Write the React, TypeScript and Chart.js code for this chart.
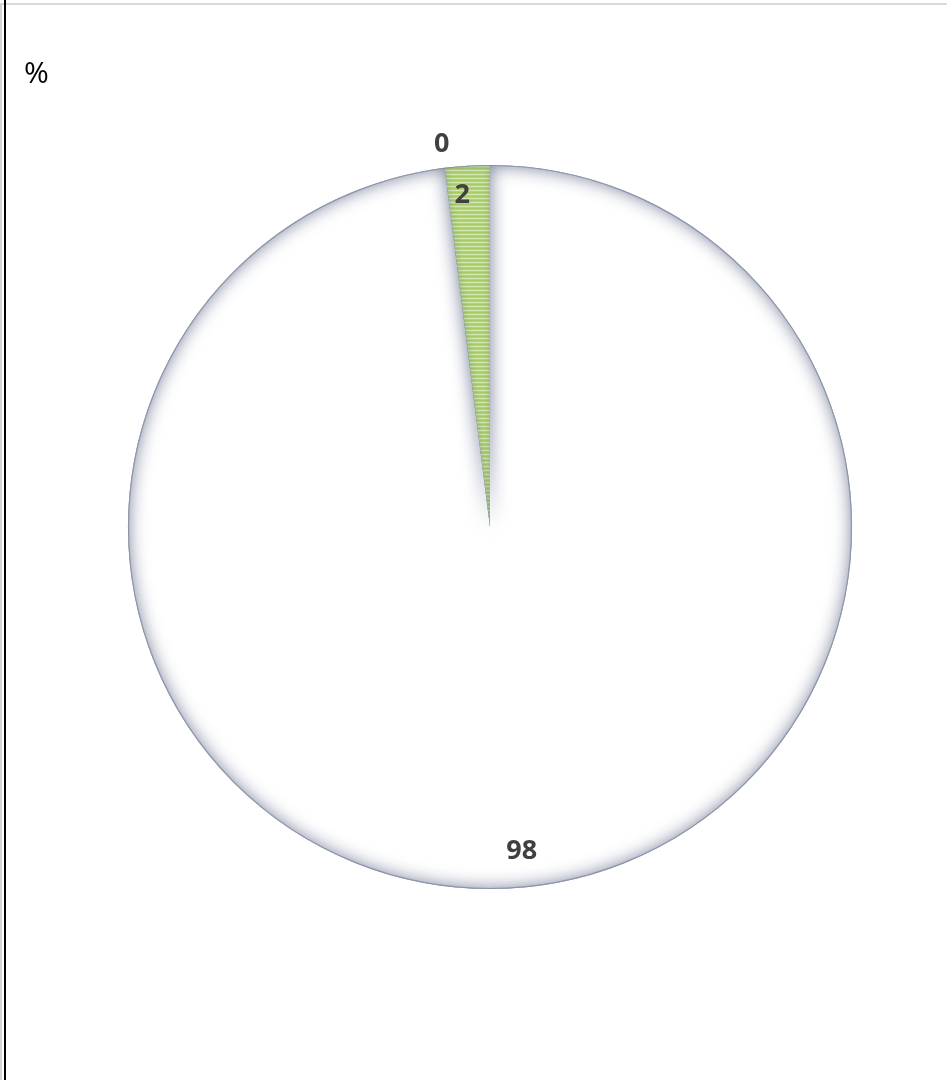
import React, { useEffect, useRef } from "react";
import { Chart, registerables } from "chart.js";

Chart.register(...registerables);

// Slice data (clockwise from 12 o'clock)
const categories = ["Rest", "Empty", "Share"];
const values = [98, 0, 2];
const valueLabels = ["98", "0", "2"];
const unitLabel = "%";

// Label distance from centre (fraction of radius) and angular nudge in degrees
const labelRadius = [0.9, 1.065, 0.92];
const labelShiftDeg = [-2, 0, -1.2];

// Edge shading strength per slice
const shadeBlur = [18, 0, 7];
const shadeAlpha = [0.95, 0, 0.45];

const WIDTH = 947;
const HEIGHT = 1080;

function makeStripes(): CanvasPattern | string {
  const c = document.createElement("canvas");
  c.width = 4;
  c.height = 4;
  const g = c.getContext("2d");
  if (!g) return "#a9cd6c";
  const rows = ["#a6cb66", "#b3d47a", "#d3e8ae", "#b3d47a"];
  rows.forEach((col, i) => {
    g.fillStyle = col;
    g.fillRect(0, i, 4, 1);
  });
  return g.createPattern(c, "repeat") || "#a9cd6c";
}

// Soft inner shading along every slice edge
const edgeShade = {
  id: "edgeShade",
  afterDatasetsDraw(chart: any) {
    const ctx: CanvasRenderingContext2D = chart.ctx;
    const meta = chart.getDatasetMeta(0);
    meta.data.forEach((arc: any, i: number) => {
      const p = arc.getProps(["x", "y", "startAngle", "endAngle", "outerRadius"], true);
      if (p.endAngle - p.startAngle < 1e-4 || shadeAlpha[i] <= 0) return;
      ctx.save();
      ctx.beginPath();
      ctx.moveTo(p.x, p.y);
      ctx.arc(p.x, p.y, p.outerRadius, p.startAngle, p.endAngle);
      ctx.closePath();
      ctx.clip();
      ctx.beginPath();
      ctx.rect(-2000, -2000, WIDTH + 4000, HEIGHT + 4000);
      ctx.moveTo(p.x, p.y);
      ctx.arc(p.x, p.y, p.outerRadius, p.startAngle, p.endAngle);
      ctx.closePath();
      ctx.shadowColor = `rgba(108,118,145,${shadeAlpha[i]})`;
      ctx.shadowBlur = shadeBlur[i];
      ctx.fillStyle = "#7d879c";
      ctx.fill("evenodd");
      ctx.restore();
    });
    // thin rim
    const first = meta.data[0].getProps(["x", "y", "outerRadius"], true);
    ctx.save();
    ctx.beginPath();
    ctx.arc(first.x, first.y, first.outerRadius - 0.5, 0, Math.PI * 2);
    ctx.strokeStyle = "rgba(125,135,158,0.75)";
    ctx.lineWidth = 1.2;
    ctx.stroke();
    ctx.restore();
  },
};

// Value labels placed along each slice's mid angle
const sliceLabels = {
  id: "sliceLabels",
  afterDatasetsDraw(chart: any) {
    const ctx: CanvasRenderingContext2D = chart.ctx;
    const meta = chart.getDatasetMeta(0);
    ctx.save();
    ctx.font = "bold 27px 'Open Sans', 'Liberation Sans', sans-serif";
    ctx.fillStyle = "#404040";
    ctx.textAlign = "center";
    ctx.textBaseline = "middle";
    meta.data.forEach((arc: any, i: number) => {
      const p = arc.getProps(["x", "y", "startAngle", "endAngle", "outerRadius"], true);
      const mid = (p.startAngle + p.endAngle) / 2 + (labelShiftDeg[i] * Math.PI) / 180;
      const r = p.outerRadius * labelRadius[i];
      ctx.fillText(valueLabels[i], p.x + Math.cos(mid) * r, p.y + Math.sin(mid) * r);
    });
    ctx.restore();
  },
};

export default function App() {
  const ref = useRef<HTMLCanvasElement>(null);

  useEffect(() => {
    if (!ref.current) return;
    const stripes = makeStripes();
    const chart = new Chart(ref.current, {
      type: "pie",
      data: {
        labels: categories,
        datasets: [
          {
            data: values,
            backgroundColor: ["#ffffff", "#ffffff", stripes],
            borderWidth: 0,
          },
        ],
      },
      options: {
        responsive: false,
        animation: false,
        layout: { padding: { left: 128, right: 95, top: 165, bottom: 191 } },
        plugins: {
          legend: { display: false },
          tooltip: { enabled: false },
          title: { display: false },
        },
      },
      plugins: [edgeShade, sliceLabels],
    });
    return () => chart.destroy();
  }, []);

  return (
    <div
      style={{
        position: "absolute",
        left: 0,
        top: 0,
        width: WIDTH,
        height: HEIGHT,
        background: "#ffffff",
        overflow: "hidden",
      }}
    >
      <canvas ref={ref} width={WIDTH} height={HEIGHT} style={{ position: "absolute", left: 0, top: 0 }} />
      <div style={{ position: "absolute", left: 0, top: 3, width: WIDTH, height: 2, background: "#d9d9d9" }} />
      <div style={{ position: "absolute", left: 0, top: 3, width: 2, height: HEIGHT, background: "#d4d4d4" }} />
      <div style={{ position: "absolute", left: 4, top: 0, width: 2, height: HEIGHT, background: "#000000" }} />
      <div
        style={{
          position: "absolute",
          left: 24,
          top: 52,
          fontFamily: "'Open Sans', 'Liberation Sans', sans-serif",
          fontSize: 30,
          color: "#000000",
          lineHeight: "40px",
        }}
      >
        {unitLabel}
      </div>
    </div>
  );
}
